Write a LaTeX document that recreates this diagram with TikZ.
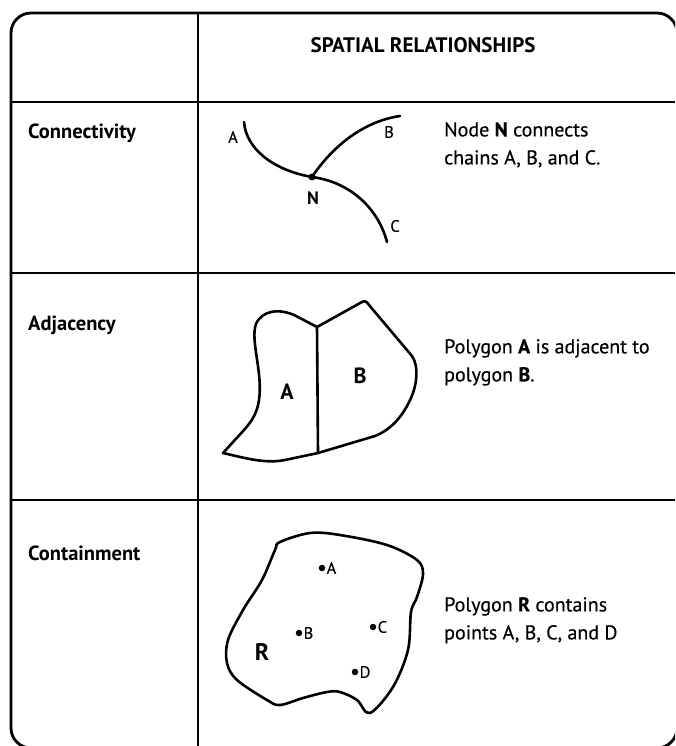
\documentclass[tikz,border=0pt]{standalone}
\usepackage{fontspec}
\setmainfont{PT Sans}
\newfontfamily\darkfont{PT Sans}[FakeBold=0.35]
\begin{document}
\begin{tikzpicture}[x=1pt,y=-1pt,
  frame/.style={line width=2.8pt, rounded corners=20pt},
  rule/.style={line width=1.8pt},
  shp/.style={line width=2.6pt, line join=round, line cap=round},
  rowlbl/.style={font=\fontsize{20.5}{24}\selectfont\bfseries, anchor=west, inner sep=0pt},
  desc/.style={font=\fontsize{20}{28}\darkfont, anchor=north west, align=left, inner sep=0pt},
  dot/.style={circle, fill=black, inner sep=0pt, minimum size=7pt},
  ptlbl/.style={font=\fontsize{16.5}{19}\darkfont, inner sep=1pt},
  biglbl/.style={font=\fontsize{22}{26}\selectfont\bfseries, inner sep=0pt}]
\useasboundingbox (0,0) rectangle (675,746);
\clip (0,0) rectangle (675,746);
% frame and table rules
\draw[frame] (11,13) rectangle (677,748);
\draw[rule] (198,13) -- (198,746);
\draw[rule] (11,102) -- (675,102);
\draw[rule] (11,273) -- (675,273);
\draw[rule] (11,500) -- (675,500);
% header
\node[font=\fontsize{21}{25}\selectfont\bfseries, inner sep=0pt] (title) at (423,45) {SPATIAL RELATIONSHIPS};
% row labels
\node[rowlbl] (lconn) at (28,133) {Connectivity};
\node[rowlbl] (ladj) at (28,325) {Adjacency};
\node[rowlbl] (lcont) at (28,553) {Containment};
% connectivity
\node[dot] (N) at (312,177) {};
\coordinate (cA) at (244,122);
\coordinate (cB) at (400,116);
\coordinate (cC) at (387,242);
\draw[shp] (cA) .. controls (246,148) and (272,170) .. (N.center);
\draw[shp] (N.center) .. controls (330,150) and (360,122) .. (cB);
\draw[shp] (N.center) .. controls (350,182) and (378,208) .. (cC);
\node[ptlbl] (tA) at (233,137) {A};
\node[ptlbl] (tB) at (389,132) {B};
\node[ptlbl] (tC) at (395,226) {C};
\node[font=\fontsize{18}{21}\selectfont\bfseries, inner sep=0pt] (tN) at (313,198) {N};
\node[desc] (dconn) at (444,122) {Node \textbf{N} connects\\chains A, B, and C.};
% adjacency
\coordinate (T) at (317,327);
\coordinate (Bt) at (318,453);
\draw[shp] (T) -- (296,316) .. controls (280,308) and (262,310) .. (256,324)
  .. controls (250,340) and (263,372) .. (259,400)
  .. controls (257,414) and (251,422) .. (244,430) -- (223,453)
  .. controls (245,458) and (265,464) .. (285,460) -- (Bt);
\draw[shp] (T) -- (362,302) .. controls (365,300) and (367,302) .. (369,305)
  -- (412,356) .. controls (419,366) and (417,385) .. (411,398)
  .. controls (402,418) and (390,430) .. (375,436) -- (Bt);
\draw[shp] (T) -- (Bt);
\node[biglbl] (pA) at (287,392) {A};
\node[biglbl] (pB) at (360,376) {B};
\node[desc] (dadj) at (444,339) {Polygon \textbf{A} is adjacent to\\polygon \textbf{B}.};
% containment
\draw[shp] plot[smooth cycle, tension=0.55] coordinates {
  (280,542) (310,533) (340,535) (387,545) (417,560) (423,574) (417,597)
  (411,612) (408,650) (393,687) (370,713) (357,700) (340,692) (327,692)
  (303,698) (280,705) (267,700) (237,680) (227,663) (228,640) (243,610)
  (262,580) (275,550)};
\node[dot, minimum size=6.5pt] (qA) at (322,568) {};
\node[dot, minimum size=6.5pt] (qB) at (299,633) {};
\node[dot, minimum size=6.5pt] (qC) at (373,627) {};
\node[dot, minimum size=6.5pt] (qD) at (355,672) {};
\node[ptlbl, anchor=west] (lqA) at (qA.east) {A};
\node[ptlbl, anchor=west] (lqB) at (qB.east) {B};
\node[ptlbl, anchor=west] (lqC) at (qC.east) {C};
\node[ptlbl, anchor=west] (lqD) at (qD.east) {D};
\node[biglbl, font=\fontsize{24}{28}\selectfont\bfseries] (R) at (262,652) {R};
\node[desc] (dcont) at (444,597) {Polygon \textbf{R} contains\\points A, B, C, and D};
\end{tikzpicture}
\end{document}
